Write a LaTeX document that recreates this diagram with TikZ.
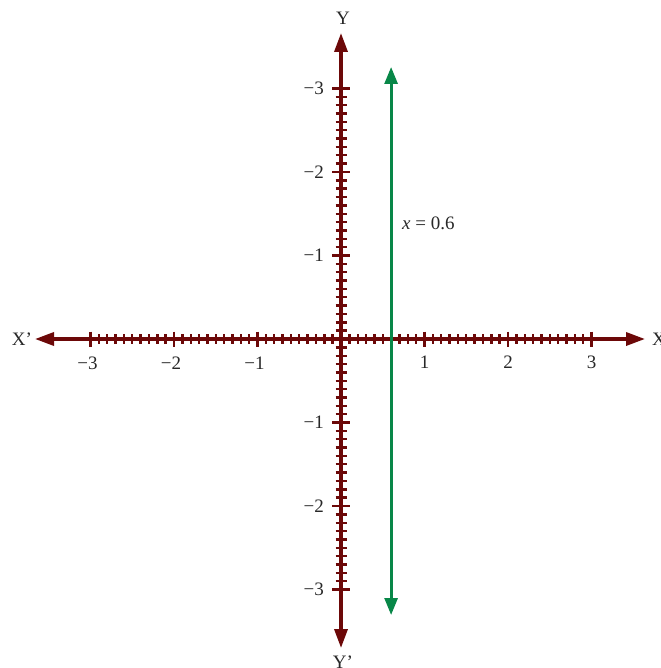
\documentclass[tikz,border=0pt]{standalone}
\usepackage{fontspec}
\setmainfont{Liberation Serif}
\usetikzlibrary{arrows.meta}
\definecolor{axisred}{RGB}{108,8,8}
\definecolor{linegreen}{RGB}{8,135,72}
\definecolor{labelgray}{RGB}{40,40,40}
\begin{document}
\begin{tikzpicture}[x=1pt,y=-1pt,
  axisline/.style={draw=axisred,line width=3.4pt,{Triangle[length=19pt,width=13pt]}-{Triangle[length=19pt,width=13pt]}},
  greenline/.style={draw=linegreen,line width=2.8pt,{Triangle[length=17pt,width=13pt]}-{Triangle[length=17pt,width=13pt]}},
  tickmark/.style={draw=axisred,line width=2.4pt},
  lbl/.style={text=labelgray,font=\fontsize{19}{22}\selectfont,inner sep=0pt}]
\useasboundingbox (0,0) rectangle (660,668);
\def\ox{341}\def\oy{339}\def\un{83.5}
% axes
\coordinate (xl) at (35,\oy);
\coordinate (xr) at (645,\oy);
\coordinate (yt) at (\ox,33);
\coordinate (yb) at (\ox,648);
\draw[axisline] (xl) -- (xr);
\draw[axisline] (yb) -- (yt);
% ticks
\foreach \i in {-30,...,30}{
  \pgfmathsetmacro{\p}{\i*\un/10}
  \pgfmathtruncatemacro{\m}{mod(abs(\i),10)}
  \ifnum\m=0
    \draw[tickmark] (\ox+\p,\oy-7.5) -- (\ox+\p,\oy+7.5);
    \draw[tickmark] (\ox-9,\oy+\p) -- (\ox+9,\oy+\p);
  \else
    \draw[tickmark] (\ox+\p,\oy-5) -- (\ox+\p,\oy+5);
    \draw[tickmark] (\ox-5.5,\oy+\p) -- (\ox+5.5,\oy+\p);
  \fi
}
% green line x = 0.6
\coordinate (gt) at (\ox+0.6*\un,67);
\coordinate (gb) at (\ox+0.6*\un,615);
\draw[greenline] (gb) -- (gt);
\node[lbl,anchor=west] (eq) at (402,223) {\textit{x} = 0.6};
% axis labels
\node[lbl] (Xp) at (22,\oy) {X{\char"27}};
\node[lbl,anchor=west] (X) at (652,\oy) {X};
\node[lbl] (Y) at (343,18) {Y};
\node[lbl] (Yp) at (343,662) {Y{\char"27}};
% x labels
\node[lbl] (xm3) at (\ox-3*\un-3,363) {−3};
\node[lbl] (xm2) at (\ox-2*\un-3,363) {−2};
\node[lbl] (xm1) at (\ox-1*\un-3,363) {−1};
\node[lbl] (x1) at (\ox+1*\un,362) {1};
\node[lbl] (x2) at (\ox+2*\un,362) {2};
\node[lbl] (x3) at (\ox+3*\un,362) {3};
% y labels
\node[lbl,anchor=east] (yt3) at (324,\oy-3*\un) {−3};
\node[lbl,anchor=east] (yt2) at (324,\oy-2*\un) {−2};
\node[lbl,anchor=east] (yt1) at (324,\oy-1*\un) {−1};
\node[lbl,anchor=east] (yb1) at (324,\oy+1*\un) {−1};
\node[lbl,anchor=east] (yb2) at (324,\oy+2*\un) {−2};
\node[lbl,anchor=east] (yb3) at (324,\oy+3*\un) {−3};
\end{tikzpicture}
\end{document}
